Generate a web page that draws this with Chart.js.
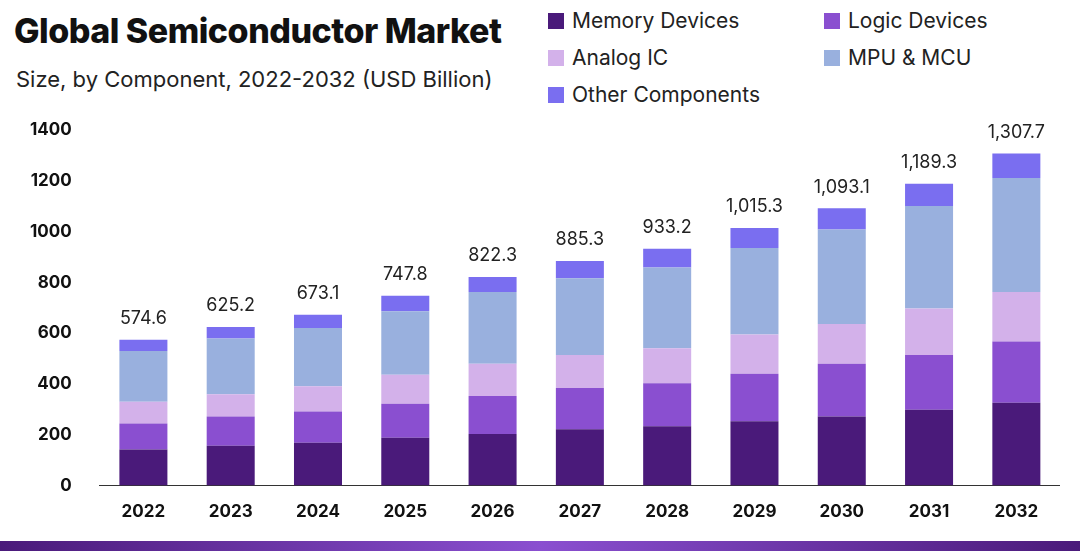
<!DOCTYPE html>
<html><head><meta charset="utf-8">
<script src="https://cdn.jsdelivr.net/npm/chart.js@4"></script>
<style>
body{margin:0;width:1080px;height:551px;background:#fff;font-family:Inter,"Noto Sans",sans-serif;position:relative;overflow:hidden}
#t{position:absolute;left:14px;top:10px;font-size:34px;font-weight:800;color:#111;letter-spacing:-0.5px}
#s{position:absolute;left:16px;top:66px;font-size:22px;color:#222}
#lg{position:absolute;left:548px;top:8px;width:500px;font-size:21px;color:#222}
#lg div{position:absolute;white-space:nowrap}
#lg span{display:inline-block;width:16px;height:16px;margin-right:8px;vertical-align:-1px}
#wrap{position:absolute;left:0;top:100px;width:1060px;height:435px}
#bar{position:absolute;left:0;bottom:0;width:1080px;height:10px;background:linear-gradient(90deg,#4a1a7a,#8a4fd0,#4a1a7a)}
</style></head><body>
<div id="t">Global Semiconductor Market</div>
<div id="s">Size, by Component, 2022-2032 (USD Billion)</div>
<div id="lg"></div>
<div id="wrap"><canvas id="c" width="1060" height="430"></canvas></div>
<div id="bar"></div>
<script>
var years = ['2022','2023','2024','2025','2026','2027','2028','2029','2030','2031','2032'];
var memory = [142,157,169,188,203,222,234,253,272,299,326];
var logic = [103,115,123,134,150,162,169,188,208,215,242];
var analog = [85,88,99,115,127,130,138,154,157,184,195];
var mpu = [200,219,230,250,283,303,318,341,372,403,449];
var other = [45,46,52,61,59,68,74,79,84,88,96];
var totals = ['574.6','625.2','673.1','747.8','822.3','885.3','933.2','1,015.3','1,093.1','1,189.3','1,307.7'];
var names = ['Memory Devices','Logic Devices','Analog IC','MPU & MCU','Other Components'];
var colors = ['#4a1a7a','#8a4fd0','#d3b1ea','#99b0de','#7a6ef0'];
var series = [memory,logic,analog,mpu,other];

var pos = [[0,0],[276,0],[0,37],[276,37],[0,74]];
var lg = document.getElementById('lg');
names.forEach(function(n,i){
    var d = document.createElement('div');
    d.style.left = pos[i][0]+'px'; d.style.top = pos[i][1]+'px';
    d.innerHTML = '<span style="background:'+colors[i]+'"></span>'+n.replace('&','&amp;');
    lg.appendChild(d);
});

var totalLabels = {
    id:'totalLabels',
    afterDatasetsDraw:function(chart){
        var ctx = chart.ctx;
        var meta = chart.getDatasetMeta(4);
        ctx.save();
        ctx.font = '18px Inter, "Noto Sans", sans-serif';
        ctx.fillStyle = '#222';
        ctx.textAlign = 'center';
        ctx.textBaseline = 'bottom';
        meta.data.forEach(function(b,i){ ctx.fillText(totals[i], b.x, b.y-12); });
        ctx.restore();
    }
};

new Chart(document.getElementById('c'), {
    type:'bar',
    data:{
        labels:years,
        datasets:series.map(function(d,i){
            return {label:names[i],data:d,backgroundColor:colors[i],barPercentage:0.55,categoryPercentage:1};
        })
    },
    options:{
        responsive:false, animation:false,
        layout:{padding:{left:10,right:0,top:14,bottom:0}},
        plugins:{legend:{display:false},tooltip:{enabled:false}},
        scales:{
            x:{stacked:true,grid:{display:false},border:{color:'#333'},
               ticks:{color:'#111',maxRotation:0,autoSkip:false,font:{size:17,weight:'bold',family:'Inter'},padding:8}},
            y:{stacked:true,min:0,max:1400,grid:{display:false},border:{display:false},
               ticks:{stepSize:200,color:'#111',font:{size:17,weight:'bold',family:'Inter'},padding:20,
                      callback:function(v){ return String(v); }}}
        }
    },
    plugins:[totalLabels]
});
</script>
</body></html>
